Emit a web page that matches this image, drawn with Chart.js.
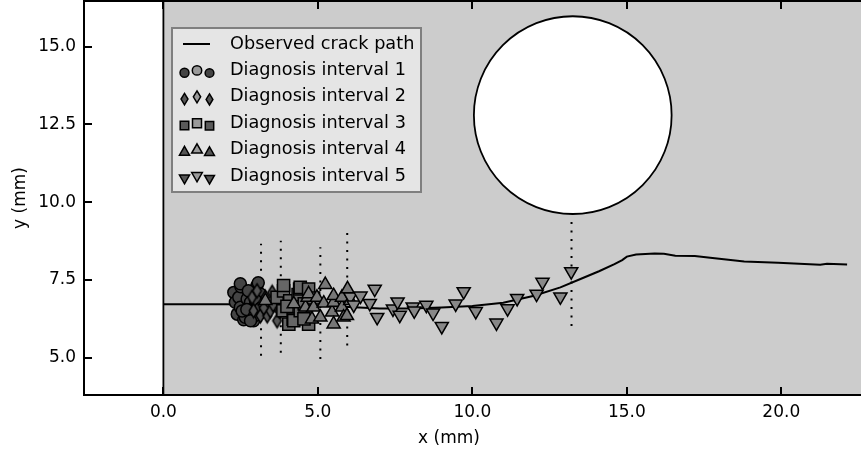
<!DOCTYPE html>
<html>
<head>
<meta charset="utf-8">
<script src="https://cdn.jsdelivr.net/npm/chart.js@4.4.1/dist/chart.umd.min.js"></script>
<style>
  body { margin: 0; background: #fff; }
  canvas { display: block; }
</style>
</head>
<body>
<canvas id="crackChart" width="861" height="454"></canvas>
<script>
// observed crack path (mm)
const pathX = [0, 2, 4, 5, 6, 7, 8, 9, 10, 11, 12, 12.85, 13.5, 14.1, 14.6, 14.85, 15.0, 15.3, 15.9, 16.2, 16.57, 17.2, 17.7, 18.8, 19.9, 21.26, 21.48, 22.13];
const pathY = [6.72, 6.72, 6.71, 6.68, 6.63, 6.58, 6.58, 6.61, 6.66, 6.77, 6.99, 7.26, 7.53, 7.78, 8.01, 8.14, 8.25, 8.32, 8.35, 8.34, 8.28, 8.27, 8.21, 8.09, 8.05, 7.99, 8.02, 8.00];

// diagnosed crack tip positions, one pair of arrays per interval
const int1X = [2.28, 2.33, 2.39, 2.44, 2.49, 2.51, 2.49, 2.60, 2.65, 2.71, 2.82, 2.87, 2.92, 2.92, 3.03, 3.07, 3.08, 3.14, 3.25, 2.55, 2.75, 2.98, 2.70, 2.95, 3.15, 2.82];
const int1Y = [7.10, 6.78, 6.40, 6.94, 6.62, 7.28, 7.38, 6.22, 6.30, 6.89, 6.78, 6.57, 7.10, 6.19, 7.32, 7.41, 6.40, 7.05, 6.73, 6.50, 7.15, 6.85, 6.55, 6.35, 6.60, 6.19];

const int2X = [2.87, 2.92, 3.03, 3.14, 3.19, 3.30, 3.36, 3.46, 3.52, 3.62, 3.68, 3.25, 3.55, 3.75];
const int2Y = [6.94, 6.51, 7.15, 6.35, 6.73, 6.94, 6.35, 6.51, 7.10, 6.83, 6.19, 6.60, 6.70, 6.50];

const int3X = [3.68, 3.87, 3.89, 3.89, 4.06, 4.09, 4.20, 4.22, 4.36, 4.41, 4.43, 4.43, 4.56, 4.70, 4.70, 4.86, 4.55, 4.00];
const int3Y = [6.94, 6.51, 7.15, 7.32, 6.08, 6.83, 6.24, 6.19, 7.03, 7.21, 6.51, 7.26, 6.73, 7.21, 6.08, 6.92, 6.25, 6.65];

const int4X = [3.30, 4.22, 4.60, 4.67, 4.70, 4.81, 4.86, 4.97, 5.08, 5.19, 5.24, 5.46, 5.51, 5.51, 5.51, 5.78, 5.78, 5.83, 5.94, 5.96, 6.05];
const int4Y = [6.83, 6.73, 6.62, 6.94, 7.05, 6.24, 6.62, 6.94, 6.30, 6.75, 7.35, 6.46, 6.78, 6.08, 6.99, 6.62, 6.94, 6.30, 6.35, 7.21, 6.83];

const int5X = [6.05, 6.16, 6.38, 6.68, 6.84, 6.92, 7.43, 7.58, 7.65, 8.07, 8.12, 8.51, 8.73, 9.01, 9.46, 9.72, 10.11, 10.78, 11.14, 11.45, 12.08, 12.27, 12.85, 13.20];
const int5Y = [6.96, 6.70, 6.99, 6.75, 7.21, 6.30, 6.57, 6.80, 6.37, 6.64, 6.51, 6.69, 6.44, 6.01, 6.73, 7.13, 6.49, 6.12, 6.58, 6.91, 7.05, 7.43, 6.96, 7.77];

// dotted markers at the end of each interval
const guideX = [3.16, 3.80, 5.08, 5.95, 13.21];
const guideLow = [5.06, 5.16, 4.96, 5.39, 6.02];
const guideHigh = [8.66, 8.76, 8.55, 9.03, 9.55];

// hole in the specimen
const holeX = 13.25, holeY = 12.8, holeR = 3.2;

const xTicks = [0, 5, 10, 15, 20];
const yTicks = [5, 7.5, 10, 12.5, 15];

const names = ['Observed crack path', 'Diagnosis interval 1', 'Diagnosis interval 2',
  'Diagnosis interval 3', 'Diagnosis interval 4', 'Diagnosis interval 5'];

Chart.defaults.font.family = "'DejaVu Sans'";
Chart.defaults.font.size = 17;
Chart.defaults.color = '#000';

const pts = (xs, ys) => xs.map((v, i) => ({ x: v, y: ys[i] }));

function thinDiamond(h, fill) {
  const w = h * 0.62, pad = 2;
  const c = document.createElement('canvas');
  c.width = Math.ceil(w + pad * 2);
  c.height = Math.ceil(h + pad * 2);
  const g = c.getContext('2d');
  const cx = c.width / 2, cy = c.height / 2;
  g.beginPath();
  g.moveTo(cx, cy - h / 2);
  g.lineTo(cx + w / 2, cy);
  g.lineTo(cx, cy + h / 2);
  g.lineTo(cx - w / 2, cy);
  g.closePath();
  g.fillStyle = fill;
  g.fill();
  g.lineWidth = 1.5;
  g.strokeStyle = '#000';
  g.stroke();
  return c;
}

const markerStyle = (fill) => ({
  type: 'scatter',
  backgroundColor: fill,
  borderColor: '#000',
  borderWidth: 1.5,
  pointHoverRadius: 0
});

const datasets = [
  { type: 'scatter', label: names[0], data: pts(pathX, pathY), showLine: true,
    borderColor: '#000', borderWidth: 2, pointRadius: 0, tension: 0, order: 7 },
  Object.assign(markerStyle('#444444'), { label: names[1], data: pts(int1X, int1Y),
    pointStyle: 'circle', pointRadius: 6, order: 5 }),
  Object.assign(markerStyle('#555555'), { label: names[2], data: pts(int2X, int2Y),
    pointStyle: thinDiamond(14, '#555555'), pointRadius: 6, order: 4 }),
  Object.assign(markerStyle('#666666'), { label: names[3], data: pts(int3X, int3Y),
    pointStyle: 'rect', pointRadius: 8.6, order: 3 }),
  Object.assign(markerStyle('#777777'), { label: names[4], data: pts(int4X, int4Y),
    pointStyle: 'triangle', pointRadius: 7.6, order: 2 }),
  Object.assign(markerStyle('#888888'), { label: names[5], data: pts(int5X, int5Y),
    pointStyle: 'triangle', pointRotation: 180, pointRadius: 7.6, order: 1 })
];

guideX.forEach((gx, i) => {
  datasets.push({
    type: 'scatter', label: 'guide' + i, showLine: true,
    data: [{ x: gx, y: guideLow[i] }, { x: gx, y: guideHigh[i] }],
    borderColor: '#000', borderWidth: 2, borderDash: [2, 6.5], borderCapStyle: 'butt',
    pointRadius: 0, order: 6
  });
});

// shaded specimen, the hole and the x = 0 edge
const specimen = {
  id: 'specimen',
  beforeDatasetsDraw(chart) {
    const { ctx, chartArea: a, scales: { x, y } } = chart;
    const x0 = x.getPixelForValue(0);
    ctx.save();
    ctx.fillStyle = '#cccccc';
    ctx.fillRect(x0, a.top, a.right - x0, a.bottom - a.top);
    const cx = x.getPixelForValue(holeX), cy = y.getPixelForValue(holeY);
    const r = x.getPixelForValue(holeX + holeR) - cx;
    ctx.beginPath();
    ctx.arc(cx, cy, r, 0, Math.PI * 2);
    ctx.fillStyle = '#fff';
    ctx.fill();
    ctx.lineWidth = 1.8;
    ctx.strokeStyle = '#000';
    ctx.stroke();
    ctx.beginPath();
    ctx.moveTo(x0, a.top);
    ctx.lineTo(x0, a.bottom);
    ctx.lineWidth = 1.8;
    ctx.stroke();
    ctx.restore();
  }
};

// spines with inward ticks, and the x axis title
const frame = {
  id: 'frame',
  afterDatasetsDraw(chart) {
    const { ctx, chartArea: a, scales: { x, y } } = chart;
    ctx.save();
    ctx.strokeStyle = '#000';
    ctx.lineWidth = 2;
    ctx.beginPath();
    ctx.moveTo(a.right + 2, a.top);
    ctx.lineTo(a.left, a.top);
    ctx.lineTo(a.left, a.bottom);
    ctx.lineTo(a.right + 2, a.bottom);
    ctx.stroke();
    ctx.beginPath();
    xTicks.forEach(v => {
      const px = Math.round(x.getPixelForValue(v));
      ctx.moveTo(px, a.bottom); ctx.lineTo(px, a.bottom - 8);
      ctx.moveTo(px, a.top); ctx.lineTo(px, a.top + 8);
    });
    yTicks.forEach(v => {
      const py = Math.round(y.getPixelForValue(v));
      ctx.moveTo(a.left, py); ctx.lineTo(a.left + 8, py);
    });
    ctx.stroke();
    ctx.fillStyle = '#000';
    ctx.font = "17px 'DejaVu Sans'";
    ctx.textAlign = 'center';
    ctx.textBaseline = 'middle';
    ctx.fillText('x (mm)', 449, a.bottom + 44);
    ctx.restore();
  }
};

function drawMarker(ctx, shape, px, py, s, fill) {
  ctx.beginPath();
  if (shape === 'circle') {
    ctx.arc(px, py, s, 0, Math.PI * 2);
  } else if (shape === 'diamond') {
    ctx.moveTo(px, py - s * 1.15); ctx.lineTo(px + s * 0.7, py);
    ctx.lineTo(px, py + s * 1.15); ctx.lineTo(px - s * 0.7, py);
    ctx.closePath();
  } else if (shape === 'square') {
    ctx.rect(px - s * 0.9, py - s * 0.9, s * 1.8, s * 1.8);
  } else if (shape === 'up') {
    ctx.moveTo(px, py - s * 1.1); ctx.lineTo(px + s, py + s * 0.65);
    ctx.lineTo(px - s, py + s * 0.65); ctx.closePath();
  } else {
    ctx.moveTo(px, py + s * 1.1); ctx.lineTo(px + s, py - s * 0.65);
    ctx.lineTo(px - s, py - s * 0.65); ctx.closePath();
  }
  ctx.fillStyle = fill;
  ctx.fill();
  ctx.lineWidth = 1.5;
  ctx.strokeStyle = '#000';
  ctx.stroke();
}

// legend with three sample markers per interval
const keyBox = {
  id: 'keyBox',
  afterDraw(chart) {
    const { ctx, chartArea: a } = chart;
    const left = a.left + 88, top = a.top + 27;
    const w = 249, h = 164, rowH = 26.4;
    ctx.save();
    ctx.fillStyle = '#e5e5e5';
    ctx.fillRect(left, top, w, h);
    ctx.strokeStyle = '#7f7f7f';
    ctx.lineWidth = 2;
    ctx.strokeRect(left, top, w, h);
    const shapes = [null, 'circle', 'diamond', 'square', 'up', 'down'];
    const sizes = [null, 4.7, 5.2, 5.0, 5.3, 5.3];
    const outer = ['#444444', '#555555', '#5a5a5a', '#555555', '#555555'];
    names.forEach((name, i) => {
      const cy = top + 16 + i * rowH;
      if (i === 0) {
        ctx.beginPath();
        ctx.moveTo(left + 11, cy);
        ctx.lineTo(left + 38, cy);
        ctx.lineWidth = 2;
        ctx.strokeStyle = '#000';
        ctx.stroke();
      } else {
        const sh = shapes[i], s = sizes[i];
        drawMarker(ctx, sh, left + 12.5, cy + 2.3, s * 0.95, outer[i - 1]);
        drawMarker(ctx, sh, left + 25, cy, s, '#9a9a9a');
        drawMarker(ctx, sh, left + 37.5, cy + 2.6, s * 0.93, outer[i - 1]);
      }
      ctx.fillStyle = '#000';
      ctx.font = "17.7px 'DejaVu Sans'";
      ctx.textBaseline = 'middle';
      ctx.textAlign = 'left';
      ctx.fillText(name, left + 58, cy);
    });
    ctx.restore();
  }
};

new Chart(document.getElementById('crackChart'), {
  type: 'scatter',
  data: { datasets },
  options: {
    responsive: false,
    animation: false,
    layout: { autoPadding: false, padding: { top: 1, right: 0, left: 0, bottom: 0 } },
    plugins: { legend: { display: false }, tooltip: { enabled: false } },
    scales: {
      x: {
        type: 'linear', min: -2.57, max: 22.58,
        grid: { display: false, drawTicks: false },
        border: { display: false },
        afterBuildTicks: s => { s.ticks = xTicks.map(v => ({ value: v })); },
        afterFit: s => { s.height = 59; s.paddingLeft = 0; s.paddingRight = 0; },
        ticks: { padding: 7, maxRotation: 0, autoSkip: false, callback: v => Number(v).toFixed(1) },
        title: { display: false }
      },
      y: {
        type: 'linear', min: 3.8, max: 16.47,
        grid: { display: false, drawTicks: false },
        border: { display: false },
        afterBuildTicks: s => { s.ticks = yTicks.map(v => ({ value: v })); },
        afterFit: s => { s.width = 84; s.paddingTop = 0; s.paddingBottom = 0; },
        ticks: { padding: 8, autoSkip: false, callback: v => Number(v).toFixed(1) },
        title: { display: true, text: 'y (mm)', padding: { top: 10, bottom: 0 } }
      }
    }
  },
  plugins: [specimen, frame, keyBox]
});
</script>
</body>
</html>
